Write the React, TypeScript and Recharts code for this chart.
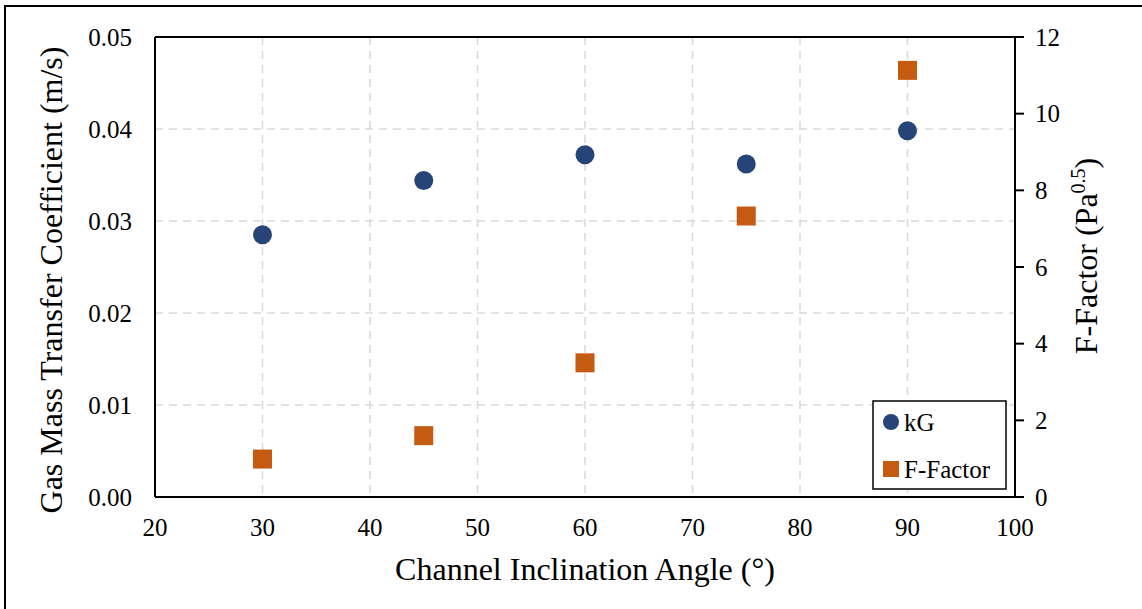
import React from 'react';
import { ScatterChart, Scatter, XAxis, YAxis, CartesianGrid, ReferenceLine, Label } from 'recharts';

const angles = [30, 45, 60, 75, 90];
const kGValues = [0.0285, 0.0344, 0.0372, 0.0362, 0.0398];
const fFactorValues = [0.99, 1.6, 3.5, 7.33, 11.13];
const xTicks = [20, 30, 40, 50, 60, 70, 80, 90, 100];
const leftTicks = [0, 0.01, 0.02, 0.03, 0.04, 0.05];
const rightTicks = [0, 2, 4, 6, 8, 10, 12];
const seriesNames = ['kG', 'F-Factor'];

const kGData = angles.map((a, i) => ({ x: a, y: kGValues[i] }));
const ffData = angles.map((a, i) => ({ x: a, y: fFactorValues[i] }));

const FONT = '"Liberation Serif", "Times New Roman", serif';
const NAVY = '#264478';
const ORANGE = '#C55A11';

const CircleShape = (props: any) => (
  <circle cx={props.cx} cy={props.cy} r={9.5} fill={NAVY} />
);
const SquareShape = (props: any) => (
  <rect x={props.cx - 9.5} y={props.cy - 9.5} width={19} height={19} fill={ORANGE} />
);

const tickTextStyle = { fontFamily: FONT, fontSize: 25, fill: '#000' };

const makeTick = (anchor: 'start' | 'middle' | 'end', dy: number, fmt: (v: number) => string) => (props: any) => (
  <g>
    <text x={props.x} y={props.y + dy} textAnchor={anchor} style={tickTextStyle}>
      {fmt(props.payload.value)}
    </text>
  </g>
);

const BottomTick = makeTick('middle', 18, (v) => String(v));
const LeftTick = makeTick('end', 8.5, (v) => v.toFixed(2));
const RightTick = makeTick('start', 8.5, (v) => String(v));

const titleStyle = { fontFamily: FONT, fontSize: 32, fill: '#000' };

const LeftTitle = () => (
  <text transform="translate(62,280) rotate(-90)" textAnchor="middle" style={titleStyle}>
    Gas Mass Transfer Coefficient (m/s)
  </text>
);

const RightTitle = () => (
  <text transform="translate(1097,256) rotate(-90)" textAnchor="middle" style={titleStyle}>
    F-Factor (Pa
    <tspan style={{ fontSize: 20 }} dy={-12}>0.5</tspan>
    <tspan dy={12}>)</tspan>
  </text>
);

const BottomTitle = () => (
  <text x={585} y={580} textAnchor="middle" style={titleStyle}>
    Channel Inclination Angle (°)
  </text>
);

export default function App() {
  const axisLine = { stroke: '#000', strokeWidth: 2 };
  return (
    <div style={{ position: 'absolute', left: 0, top: 0, width: 1142, height: 609, overflow: 'hidden', background: '#fff', fontFamily: FONT }}>
      <div style={{ position: 'absolute', left: 4, top: 5, width: 2000, height: 2000, borderTop: '2px solid #000', borderLeft: '2px solid #000' }} />
      <div style={{ position: 'absolute', left: 0, top: 0 }}>
        <ScatterChart width={1142} height={609} margin={{ top: 37, right: 47, bottom: 52, left: 75 }} style={{ fontFamily: FONT }}>
          <CartesianGrid yAxisId="left" stroke="#d9d9d9" strokeDasharray="8 6" strokeWidth={1.5} />
          <XAxis
            type="number"
            dataKey="x"
            domain={[20, 100]}
            ticks={xTicks}
            tickLine={false}
            tickSize={0}
            tickMargin={21}
            axisLine={axisLine}
            tick={BottomTick}
            height={60}
            allowDataOverflow
          >
            <Label content={BottomTitle} />
          </XAxis>
          <YAxis
            yAxisId="left"
            type="number"
            dataKey="y"
            domain={[0, 0.05]}
            ticks={leftTicks}
            width={80}
            tickLine={false}
            tickSize={0}
            tickMargin={23}
            axisLine={axisLine}
            tick={LeftTick}
            allowDataOverflow
          >
            <Label content={LeftTitle} />
          </YAxis>
          <YAxis
            yAxisId="right"
            orientation="right"
            type="number"
            dataKey="y"
            domain={[0, 12]}
            ticks={rightTicks}
            width={80}
            tickSize={9}
            tickMargin={11}
            tickLine={axisLine}
            axisLine={axisLine}
            tick={RightTick}
            allowDataOverflow
          >
            <Label content={RightTitle} />
          </YAxis>
          <ReferenceLine yAxisId="left" y={0.05} stroke="#000" strokeWidth={2} />
          <Scatter name={seriesNames[0]} yAxisId="left" data={kGData} fill={NAVY} shape={CircleShape} isAnimationActive={false} />
          <Scatter name={seriesNames[1]} yAxisId="right" data={ffData} fill={ORANGE} shape={SquareShape} isAnimationActive={false} />
        </ScatterChart>
      </div>
      <svg style={{ position: 'absolute', left: 872, top: 400 }} width={136} height={92}>
        <rect x={1} y={1} width={133} height={88} fill="#fff" stroke="#000" strokeWidth={1.5} />
        <circle cx={19} cy={22} r={8} fill={NAVY} />
        <text x={32} y={31} style={{ fontFamily: FONT, fontSize: 25, fill: '#000' }}>{seriesNames[0]}</text>
        <rect x={11} y={61} width={16} height={16} fill={ORANGE} />
        <text x={32} y={78} style={{ fontFamily: FONT, fontSize: 25, fill: '#000' }}>{seriesNames[1]}</text>
      </svg>
    </div>
  );
}
